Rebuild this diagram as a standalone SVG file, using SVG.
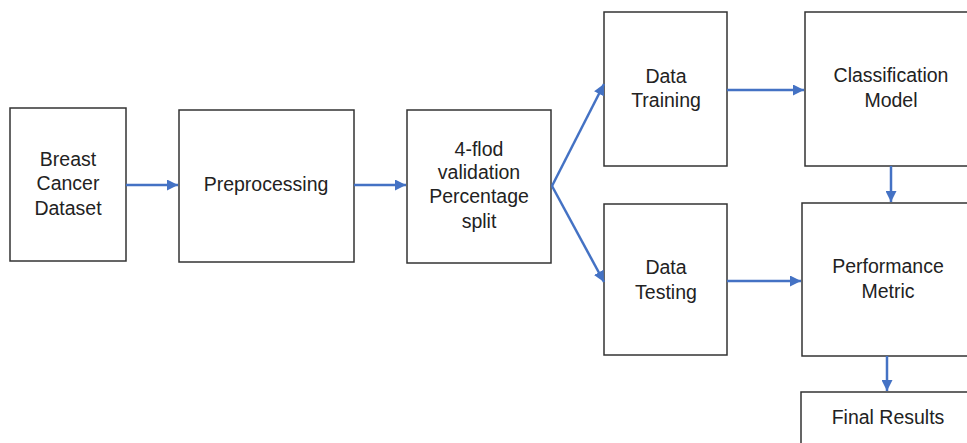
<svg xmlns="http://www.w3.org/2000/svg" width="967" height="443" viewBox="0 0 967 443">
  <style>
    .box { fill: #ffffff; stroke: #333333; stroke-width: 1.5; }
    .lbl { font-family: "Liberation Sans", Arial, sans-serif; font-size: 19.5px; fill: #222222; text-anchor: middle; }
    .conn { stroke: #4472c4; stroke-width: 2.5; fill: none; marker-end: url(#arrow); }
  </style>
  <defs>
    <marker id="arrow" viewBox="0 0 10 10" refX="10" refY="5" markerWidth="4.4" markerHeight="4.4" orient="auto" markerUnits="strokeWidth">
      <path d="M0,0 L10,5 L0,10 z" fill="#4472c4"/>
    </marker>
  </defs>
  <rect width="967" height="443" fill="#ffffff"/>

  <g id="dataset">
    <rect class="box" x="10" y="108" width="116" height="153"/>
    <text class="lbl" x="68" y="166">Breast</text>
    <text class="lbl" x="68" y="190">Cancer</text>
    <text class="lbl" x="68" y="215">Dataset</text>
  </g>
  <g id="preprocessing">
    <rect class="box" x="179" y="110" width="175" height="152"/>
    <text class="lbl" x="266" y="191">Preprocessing</text>
  </g>
  <g id="validation">
    <rect class="box" x="407" y="110" width="144" height="153"/>
    <text class="lbl" x="479" y="156">4-flod</text>
    <text class="lbl" x="479" y="179">validation</text>
    <text class="lbl" x="479" y="203">Percentage</text>
    <text class="lbl" x="479" y="228">split</text>
  </g>
  <g id="training">
    <rect class="box" x="604" y="12" width="123" height="154"/>
    <text class="lbl" x="666" y="83">Data</text>
    <text class="lbl" x="666" y="107">Training</text>
  </g>
  <g id="testing">
    <rect class="box" x="604" y="204" width="123" height="151"/>
    <text class="lbl" x="666" y="274">Data</text>
    <text class="lbl" x="666" y="299">Testing</text>
  </g>
  <g id="classification">
    <rect class="box" x="805" y="12" width="172" height="154"/>
    <text class="lbl" x="891" y="82">Classification</text>
    <text class="lbl" x="891" y="107">Model</text>
  </g>
  <g id="performance">
    <rect class="box" x="802" y="203" width="175" height="153"/>
    <text class="lbl" x="888" y="273">Performance</text>
    <text class="lbl" x="888" y="298">Metric</text>
  </g>
  <g id="final">
    <rect class="box" x="801" y="392" width="176" height="60"/>
    <text class="lbl" x="888" y="424">Final Results</text>
  </g>

  <g id="connectors">
    <line class="conn" x1="126" y1="185" x2="178" y2="185"/>
    <line class="conn" x1="354" y1="185" x2="406" y2="185"/>
    <line class="conn" x1="552" y1="186" x2="604" y2="84"/>
    <line class="conn" x1="552" y1="186" x2="604" y2="282"/>
    <line class="conn" x1="727" y1="90" x2="804" y2="90"/>
    <line class="conn" x1="727" y1="281" x2="801" y2="281"/>
    <line class="conn" x1="891" y1="166" x2="891" y2="202"/>
    <line class="conn" x1="887" y1="356" x2="887" y2="391"/>
  </g>
</svg>
